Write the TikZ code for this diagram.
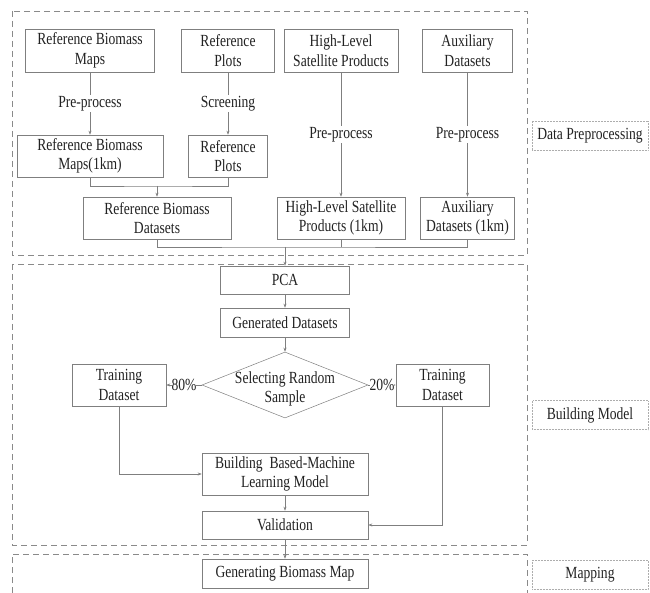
\documentclass[tikz,border=0pt]{standalone}
\usepackage{fontspec}
\setmainfont{Liberation Serif}[FakeStretch=0.8]
\usetikzlibrary{arrows.meta, positioning, shapes.geometric}
\definecolor{cline}{HTML}{7F7F7F}
\definecolor{cdash}{HTML}{8A8A8A}
\definecolor{ctext}{HTML}{222222}
\tikzset{
  every picture/.style={font=\fontsize{17}{19.5}\selectfont, text=ctext, line width=0.6pt},
  box/.style={draw=cline, fill=white, align=center, inner sep=2pt, minimum height=#1},
  box/.default=43pt,
  arrow/.style={-{Stealth[length=4pt, width=3pt]}, draw=cline, line width=0.5pt},
  link/.style={draw=cline, line width=0.5pt},
  note/.style={fill=white, inner sep=1pt},
}

\begin{document}
\begin{tikzpicture}[x=1pt, y=-1pt,
  lane/.style={draw=cdash, dash pattern=on 6pt off 4pt, line width=0.6pt},
  tag/.style={draw=cdash!70, densely dotted, line width=0.5pt, minimum width=116pt, minimum height=29pt},
  dia/.style={diamond, draw=cline, line width=0.5pt, minimum width=166pt, minimum height=66pt, inner sep=0pt}]
  \useasboundingbox (0,0) rectangle (650,593);
  % stage frames
  \draw[lane] (12,11) rectangle (527,255);
  \draw[lane] (12,264) rectangle (527,545);
  \draw[lane] (12,593) -- (12,554) -- (527,554) -- (527,593);
  \node[tag] (tprep) at (590,135.5) {Data Preprocessing};
  \node[tag] (tmodel) at (590,415) {Building Model};
  \node[tag] (tmap) at (590,574.5) {Mapping};
  % data preprocessing
  \node[box, minimum width=129pt] (refmap) at (90,50.5) {Reference Biomass\\Maps};
  \node[box, minimum width=93pt] (refplot) at (228,50.5) {Reference\\Plots};
  \node[box, minimum width=114pt] (hl) at (341,50.5) {High-Level\\Satellite Products};
  \node[box, minimum width=90pt] (aux) at (467.5,50.5) {Auxiliary\\Datasets};
  \node[box=42pt, minimum width=146pt] (refmap1) at (90,156) {Reference Biomass\\Maps(1km)};
  \node[box=42pt, minimum width=79pt] (refplot1) at (228,156) {Reference\\Plots};
  \node[box=42pt, minimum width=148pt] (refdata) at (157,218) {Reference Biomass\\Datasets};
  \node[box=42pt, minimum width=128pt] (hl1) at (341,218) {High-Level Satellite\\Products (1km)};
  \node[box=42pt, minimum width=94pt] (aux1) at (467.5,218) {Auxiliary\\Datasets (1km)};
  \draw[arrow] (refmap) -- node[note] (n1) {Pre-process} (refmap1);
  \draw[arrow] (refplot) -- node[note] (n2) {Screening} (refplot1);
  \draw[arrow] (hl) -- node[note] (n3) {Pre-process} (hl1);
  \draw[arrow] (aux) -- node[note] (n4) {Pre-process} (aux1);
  \coordinate (mergeA) at (157,186);
  \draw[link] (refmap1.south) |- (mergeA) -| (refplot1.south);
  \draw[arrow] (mergeA) -- (refdata.north);
  \coordinate (mergeB) at (285,247);
  \draw[link] (refdata.south) |- (mergeB) -| (aux1.south);
  \draw[link] (hl1.south) -- (hl1.south |- mergeB);
  % building model
  \node[box=28pt, minimum width=129pt] (pca) at (285,280) {PCA};
  \node[box=29pt, minimum width=129pt] (gen) at (285,322.5) {Generated Datasets};
  \node[dia] (sel) at (285,385) {};
  \node[align=center, inner sep=0pt] (seltext) at (285,389) {Selecting Random\\Sample};
  \node[box=42pt, minimum width=94pt] (trainL) at (119,385) {Training\\Dataset};
  \node[box=42pt, minimum width=93pt] (trainR) at (442.5,385) {Training\\Dataset};
  \node[box=42pt, minimum width=166pt] (build) at (285,474) {Building~ Based-Machine\\Learning Model};
  \node[box=28pt, minimum width=166pt] (valid) at (285,525) {Validation};
  \draw[arrow] (mergeB) -- (pca.north);
  \draw[arrow] (pca) -- (gen);
  \draw[arrow] (gen) -- (sel.north);
  \draw[arrow] (sel.west) -- node[note, inner sep=0pt] (p80) {80\%} (trainL.east);
  \draw[arrow] (sel.east) -- node[note, inner sep=0pt] (p20) {20\%} (trainR.west);
  \draw[arrow] (trainL.south) |- (build.west);
  \draw[arrow] (trainR.south) |- (valid.east);
  \draw[arrow] (build) -- (valid);
  % mapping
  \node[box=29pt, minimum width=166pt] (genmap) at (285,573.5) {Generating Biomass Map};
  \draw[arrow] (valid) -- (genmap);
\end{tikzpicture}
\end{document}
